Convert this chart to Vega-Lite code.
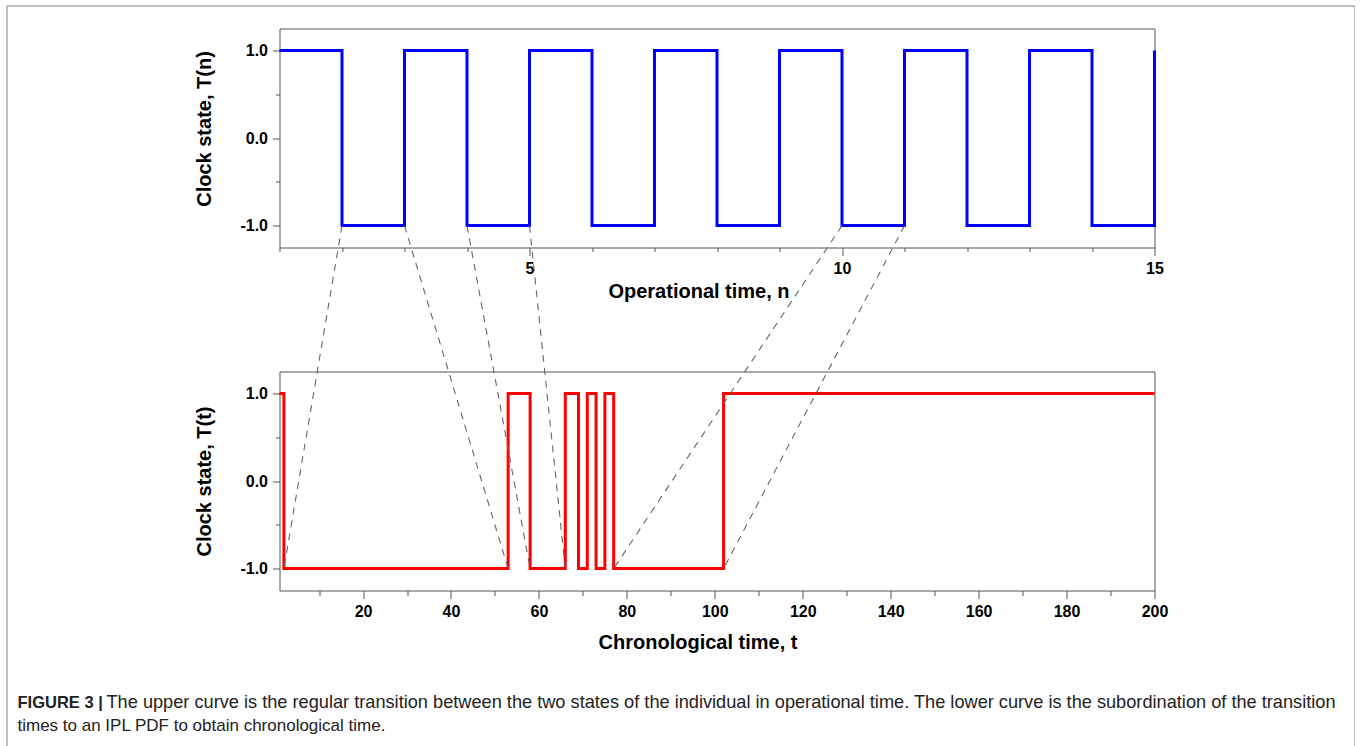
{
  "$schema": "https://vega.github.io/schema/vega-lite/v6.json",
  "padding": {"left": 6.5, "top": 5.5, "right": 0, "bottom": 0},
  "background": "white",
  "config": {
    "font": "Liberation Sans",
    "view": {"stroke": "#555555", "strokeWidth": 1},
    "axis": {
      "domain": false, "grid": false,
      "tickColor": "#555555", "tickWidth": 1,
      "labelFont": "Liberation Sans", "labelFontSize": 16, "labelFontWeight": "bold", "labelColor": "#000000",
      "labelFlush": false, "labelOverlap": false,
      "titleFont": "Liberation Sans", "titleFontSize": 20, "titleFontWeight": "bold", "titleColor": "#000000"
    },
    "axisX": {"labelPadding": 5},
    "axisY": {"labelPadding": 5, "titlePadding": 25}
  },
  "datasets": {
    "operational": [
      {"n": 1, "state": 1}, {"n": 2, "state": -1}, {"n": 3, "state": 1}, {"n": 4, "state": -1},
      {"n": 5, "state": 1}, {"n": 6, "state": -1}, {"n": 7, "state": 1}, {"n": 8, "state": -1},
      {"n": 9, "state": 1}, {"n": 10, "state": -1}, {"n": 11, "state": 1}, {"n": 12, "state": -1},
      {"n": 13, "state": 1}, {"n": 14, "state": -1}, {"n": 15, "state": 1}
    ],
    "chronological": [
      {"t": 1, "state": 1}, {"t": 2, "state": -1}, {"t": 53, "state": 1}, {"t": 58, "state": -1},
      {"t": 66, "state": 1}, {"t": 69, "state": -1}, {"t": 71, "state": 1}, {"t": 73, "state": -1},
      {"t": 75, "state": 1}, {"t": 77, "state": -1}, {"t": 102, "state": 1}, {"t": 200, "state": 1}
    ],
    "links": [
      {"n": 2, "t": 2}, {"n": 3, "t": 53}, {"n": 4, "t": 58}, {"n": 5, "t": 66}, {"n": 10, "t": 77}, {"n": 11, "t": 102}
    ],
    "caption": [
      {"part": "head", "text": "FIGURE 3 |"},
      {"part": "line1", "text": "The upper curve is the regular transition between the two states of the individual in operational time. The lower curve is the subordination of the transition"},
      {"part": "line2", "text": "times to an IPL PDF to obtain chronological time."}
    ]
  },
  "vconcat": [
    {
      "width": 1348,
      "height": 1,
      "view": {"stroke": null},
      "data": {"values": []},
      "layer": [
        {
          "mark": {"type": "point"},
          "encoding": {
            "x": {
              "field": "a", "type": "quantitative", "scale": {"domain": [0, 1]},
              "axis": {"orient": "top", "domain": true, "domainColor": "#808080", "domainWidth": 1, "ticks": false, "labels": false, "title": null}
            },
            "y": {
              "field": "b", "type": "quantitative", "scale": {"domain": [0, 1], "range": [742, 0]},
              "axis": {"orient": "left", "domain": true, "domainColor": "#808080", "domainWidth": 1, "ticks": false, "labels": false, "title": null}
            }
          }
        },
        {
          "mark": {"type": "point"},
          "encoding": {
            "y": {
              "field": "c", "type": "quantitative", "scale": {"domain": [0, 1], "range": [742, 0]},
              "axis": {"orient": "right", "domain": true, "domainColor": "#808080", "domainWidth": 1, "ticks": false, "labels": false, "title": null}
            }
          }
        }
      ],
      "resolve": {"scale": {"y": "independent"}, "axis": {"y": "independent"}}
    },
    {
      "hconcat": [
        {
          "width": 273,
          "height": 1,
          "view": {"stroke": null},
          "data": {"values": []},
          "mark": {"type": "point"},
          "encoding": {}
        },
        {
          "vconcat": [
            {
              "width": 875,
              "height": 219,
              "data": {"name": "operational"},
              "mark": {"type": "line", "interpolate": "step-after", "color": "#0000ff", "strokeWidth": 3},
              "encoding": {
                "x": {
                  "field": "n", "type": "quantitative",
                  "scale": {"domain": [1, 15], "nice": false, "zero": false},
                  "axis": {
                    "values": [1, 2, 3, 4, 5, 6, 7, 8, 9, 10, 11, 12, 13, 14, 15],
                    "labelExpr": "datum.value % 5 == 0 ? datum.label : ''",
                    "tickSize": {"condition": {"test": "datum.value % 5 == 0", "value": 8}, "value": 4},
                    "title": "Operational time, n", "titleX": 419, "titlePadding": 5
                  }
                },
                "y": {
                  "field": "state", "type": "quantitative",
                  "scale": {"domain": [-1.25, 1.25], "nice": false, "zero": false},
                  "axis": {
                    "values": [-1, -0.5, 0, 0.5, 1],
                    "labelExpr": "datum.value == 1 ? '1.0' : datum.value == 0 ? '0.0' : datum.value == -1 ? '-1.0' : ''",
                    "tickSize": {"condition": {"test": "datum.value % 1 == 0", "value": 7}, "value": 4},
                    "title": "Clock state, T(n)", "titleY": 100
                  }
                }
              }
            },
            {
              "width": 875,
              "height": 219,
              "layer": [
                {
                  "data": {"name": "chronological"},
                  "mark": {"type": "line", "interpolate": "step-after", "color": "#ff0000", "strokeWidth": 3},
                  "encoding": {
                    "x": {
                      "field": "t", "type": "quantitative",
                      "scale": {"domain": [1, 200], "nice": false, "zero": false},
                      "axis": {
                        "values": [10, 20, 30, 40, 50, 60, 70, 80, 90, 100, 110, 120, 130, 140, 150, 160, 170, 180, 190, 200],
                        "labelExpr": "datum.value % 20 == 0 ? datum.label : ''",
                        "tickSize": {"condition": {"test": "datum.value % 20 == 0", "value": 8}, "value": 5},
                        "title": "Chronological time, t", "titleX": 418, "titlePadding": 13
                      }
                    },
                    "y": {
                      "field": "state", "type": "quantitative",
                      "scale": {"domain": [-1.25, 1.25], "nice": false, "zero": false},
                      "axis": {
                        "values": [-1, -0.5, 0, 0.5, 1],
                        "labelExpr": "datum.value == 1 ? '1.0' : datum.value == 0 ? '0.0' : datum.value == -1 ? '-1.0' : ''",
                        "tickSize": {"condition": {"test": "datum.value % 1 == 0", "value": 7}, "value": 4},
                        "title": "Clock state, T(t)"
                      }
                    }
                  }
                },
                {
                  "data": {"name": "links"},
                  "transform": [{"calculate": "1 + (datum.n - 1) * 199 / 14", "as": "t_of_n"}],
                  "mark": {"type": "rule", "color": "#666666", "strokeWidth": 1.1, "strokeDash": [7, 6], "clip": false},
                  "encoding": {
                    "x": {"field": "t_of_n", "type": "quantitative"},
                    "x2": {"field": "t"},
                    "y": {"datum": 2.915, "type": "quantitative"},
                    "y2": {"datum": -1}
                  }
                }
              ]
            },
            {
              "width": 875,
              "height": 1,
              "view": {"stroke": null},
              "data": {"name": "caption"},
              "encoding": {
                "x": {"datum": 0, "type": "quantitative", "scale": {"domain": [0, 1]}, "axis": null},
                "y": {"datum": 0, "type": "quantitative", "scale": {"domain": [0, 1]}, "axis": null},
                "text": {"field": "text"}
              },
              "layer": [
                {
                  "transform": [{"filter": "datum.part == 'head'"}],
                  "mark": {"type": "text", "align": "left", "baseline": "alphabetic", "font": "Liberation Sans", "fontSize": 16.5, "fontWeight": "bold", "color": "#222222", "dx": -262, "dy": -8}
                },
                {
                  "transform": [{"filter": "datum.part == 'line1'"}],
                  "mark": {"type": "text", "align": "left", "baseline": "alphabetic", "font": "Liberation Sans", "fontSize": 18.2, "color": "#222222", "dx": -173, "dy": -8}
                },
                {
                  "transform": [{"filter": "datum.part == 'line2'"}],
                  "mark": {"type": "text", "align": "left", "baseline": "alphabetic", "font": "Liberation Sans", "fontSize": 17, "color": "#222222", "dx": -262, "dy": 15}
                }
              ]
            }
          ],
          "spacing": 124,
          "bounds": "flush"
        }
      ],
      "spacing": 0,
      "bounds": "flush"
    }
  ],
  "spacing": 22,
  "bounds": "flush"
}
